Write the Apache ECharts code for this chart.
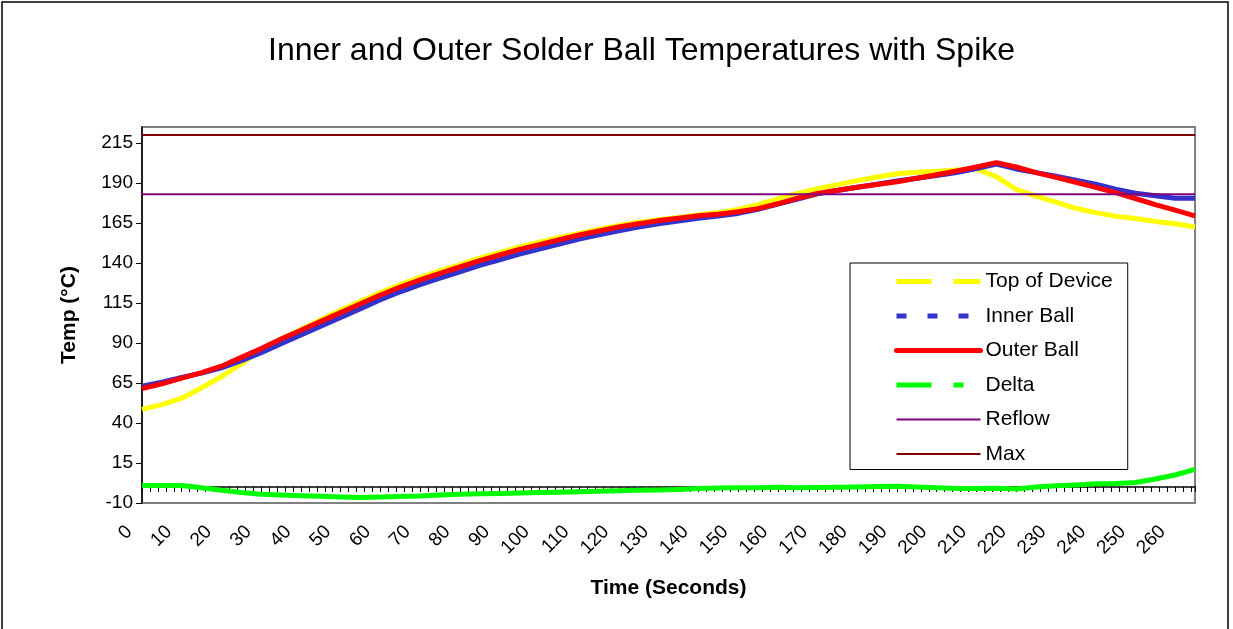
<!DOCTYPE html>
<html><head><meta charset="utf-8">
<script src="https://cdn.jsdelivr.net/npm/echarts@6/dist/echarts.min.js"></script>
<style>html,body{margin:0;padding:0;background:#fff}#c{width:1233px;height:629px}</style>
</head><body><div id="c"></div>
<script>
// ---- data ----
const times = [0,5,10,15,20,25,30,35,40,45,50,55,60,65,70,75,80,85,90,95,100,105,110,115,120,125,130,135,140,145,150,155,160,165,170,175,180,185,190,195,200,205,210,215,220,225,230,235,240,245,250,255,260,265];
const topOfDevice = [48.5,51.5,55.5,62,69,77,85.5,92.5,98.5,104.5,110.5,116,121.5,126.5,131,135,139,143,146.5,150,153,156,158.5,161,163.5,165.5,167,168.5,170,171.5,173.5,176.5,180,183.5,186.5,189,191.5,193.8,195.8,196.7,197.4,198.1,198.8,194,186,181.8,178,174.2,171.5,169.3,167.8,166,164.5,162.5];
const innerBall = [63,65.5,68.5,71.2,74.5,79,84,89.5,95,100.5,106,111.5,117,122,126.5,130.5,134.5,138.5,142,145.5,148.7,151.8,155,157.6,160.2,162.4,164.5,166.2,168,169.4,171,173.5,176.8,180,183.2,185.3,187.3,189.3,191.3,193,194.7,196.5,199,201.9,198.8,196.5,194.3,191.8,189.3,186.2,183.6,182,180.5,180.5];
const outerBall = [61.5,64.5,68,71.5,75.5,81,86.5,92.5,98,103.5,109,114.5,120,125,129.5,133.5,137.5,141.5,145,148.5,151.5,154.5,157.5,160,162.5,164.5,166.5,168,169.5,170.5,172,174,177,180.5,183.5,185.5,187.3,189,190.8,193,195.2,197.5,200,202.7,200,196.5,193.5,190.5,187.3,184,180.3,176.5,173,169.5];
const delta = [1,1,1,-0.5,-2,-3.5,-4.5,-5,-5.5,-5.8,-6.2,-6.5,-6.3,-6,-5.7,-5,-4.5,-4.2,-4,-3.8,-3.5,-3.3,-3,-2.7,-2.3,-2,-1.8,-1.5,-1,-0.7,-0.5,-0.5,-0.2,-0.5,-0.3,-0.2,0,0.3,0.5,0,-0.5,-1,-1,-0.8,-1.2,0,0.8,1.3,2,2.2,2.8,5,7.5,11];
const reflowLevel = 183;
const maxLevel = 220;
const yMin = -10, yMax = 225, yStep = 25;
const xMin = 0, xMax = 265, xStep = 10, xLabelLast = 260;
const seriesNames = ['Top of Device','Inner Ball','Outer Ball','Delta','Reflow','Max'];

const pair = arr => times.map((t, i) => [t, arr[i]]);
const level = v => [[times[0], v], [times[times.length - 1], v]];
const font = '"Liberation Sans", Arial, sans-serif';
const colors = {top:'#FFFF00', inner:'#3333CC', outer:'#FF0000', delta:'#00FF00', reflow:'#800080', max:'#800000'};

const chart = echarts.init(document.getElementById('c'), null, {renderer:'canvas'});
chart.setOption({
  animation:false,
  backgroundColor:'#fff',
  graphic:[{type:'rect', silent:true, shape:{x:2, y:2, width:1226, height:660}, style:{fill:'none', stroke:'#000', lineWidth:1.5}}],
  title:{text:'Inner and Outer Solder Ball Temperatures with Spike', left:268, top:35, padding:0,
    textStyle:{fontFamily:font, fontSize:32, fontWeight:'normal', color:'#000'}},
  grid:{left:142, top:127, width:1053, height:376, show:true, borderColor:'#808080', borderWidth:2},
  xAxis:{type:'value', min:xMin, max:xMax, interval:xStep,
    name:'Time (Seconds)', nameLocation:'middle', nameGap:75,
    nameTextStyle:{fontFamily:font, fontSize:21, fontWeight:'bold', color:'#000'},
    axisLine:{onZero:true, lineStyle:{color:'#000', width:1.5}},
    axisTick:{show:true, length:5, lineStyle:{color:'#000', width:1}},
    minorTick:{show:true, splitNumber:5, length:5, lineStyle:{color:'#000', width:1}},
    splitLine:{show:false},
    axisLabel:{rotate:45, margin:13, padding:[0,18,0,0], fontFamily:font, fontSize:19, color:'#000',
      showMaxLabel:false, formatter: v => (v <= xLabelLast ? String(v) : '')}},
  yAxis:{type:'value', min:yMin, max:yMax, interval:yStep,
    name:'Temp (°C)', nameLocation:'middle', nameGap:62, nameRotate:90,
    nameTextStyle:{fontFamily:font, fontSize:21, fontWeight:'bold', color:'#000'},
    axisLine:{show:true, lineStyle:{color:'#000', width:1.5}},
    axisTick:{show:true, length:6, lineStyle:{color:'#000'}},
    splitLine:{show:false},
    axisLabel:{fontFamily:font, fontSize:19, color:'#000', margin:9, showMaxLabel:false}},
  legend:{orient:'vertical', left:850, top:263, padding:[8,15,5,44], itemWidth:84, itemHeight:14, itemGap:13.5,
    backgroundColor:'#fff', borderColor:'#000', borderWidth:1,
    textStyle:{fontFamily:font, fontSize:21, color:'#000', lineHeight:20},
    itemStyle:{opacity:0},
    data:[
      {name:seriesNames[0], itemStyle:{opacity:0}, lineStyle:{type:[35,22], width:5, color:colors.top, cap:'butt'}},
      {name:seriesNames[1], itemStyle:{opacity:0}, lineStyle:{type:[10,21], width:5, color:colors.inner, cap:'butt'}},
      {name:seriesNames[2], itemStyle:{opacity:0}, lineStyle:{type:'solid', width:5, color:colors.outer, cap:'round'}},
      {name:seriesNames[3], itemStyle:{opacity:0}, lineStyle:{type:[35,22,10,22], width:5, color:colors.delta, cap:'butt'}},
      {name:seriesNames[4], itemStyle:{opacity:0}, lineStyle:{type:'solid', width:2, color:colors.reflow}},
      {name:seriesNames[5], itemStyle:{opacity:0}, lineStyle:{type:'solid', width:2, color:colors.max}}
    ]},
  series:[
    {name:seriesNames[0], type:'line', data:pair(topOfDevice), symbol:'none', color:colors.top, lineStyle:{width:5, color:colors.top, join:'round'}},
    {name:seriesNames[1], type:'line', data:pair(innerBall), symbol:'none', color:colors.inner, lineStyle:{width:5, color:colors.inner, join:'round'}},
    {name:seriesNames[2], type:'line', data:pair(outerBall), symbol:'none', color:colors.outer, lineStyle:{width:5, color:colors.outer, join:'round'}},
    {name:seriesNames[3], type:'line', data:pair(delta), symbol:'none', color:colors.delta, lineStyle:{width:5, color:colors.delta, join:'round'}},
    {name:seriesNames[4], type:'line', data:level(reflowLevel), symbol:'none', color:colors.reflow, lineStyle:{width:2, color:colors.reflow}},
    {name:seriesNames[5], type:'line', data:level(maxLevel), symbol:'none', color:colors.max, lineStyle:{width:2, color:colors.max}}
  ]
});
</script></body></html>
